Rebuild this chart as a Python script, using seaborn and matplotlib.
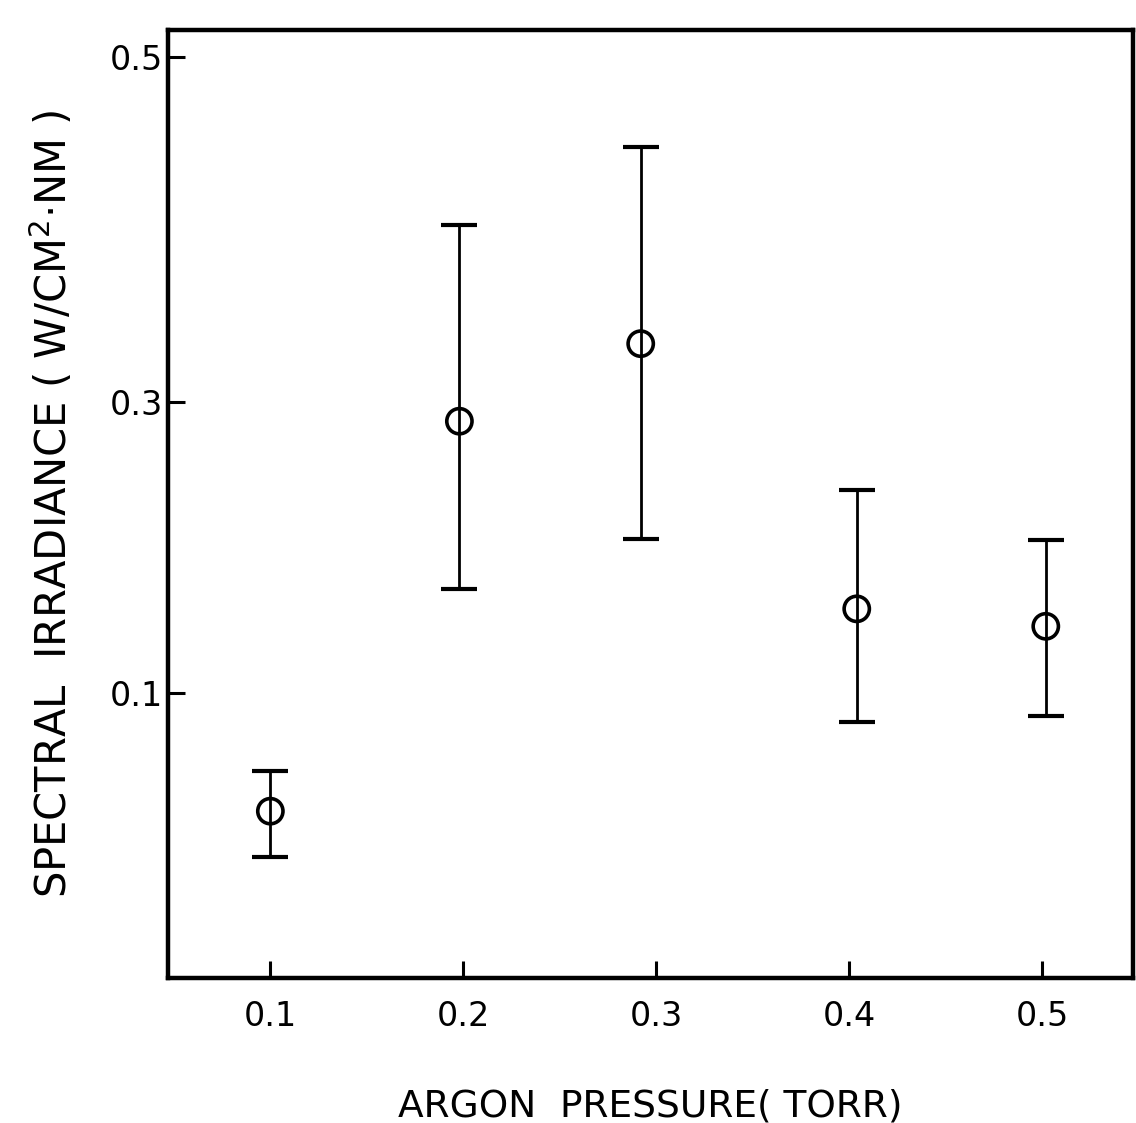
import numpy as np
import seaborn as sns
import matplotlib.pyplot as plt

# Argon pressure (torr) as drawn, and spectral irradiance
pressure = [0.100, 0.198, 0.292, 0.404, 0.502]
irradiance = [0.0586, 0.287, 0.334, 0.158, 0.146]
err_low = [0.0425, 0.1715, 0.206, 0.090, 0.092]
err_high = [0.0726, 0.403, 0.448, 0.240, 0.205]

x_ticks = [0.1, 0.2, 0.3, 0.4, 0.5]
x_tick_labels = ["0.1", "0.2", "0.3", "0.4", "0.5"]
y_ticks = [0.1, 0.3, 0.5]
y_tick_labels = ["0.1", "0.3", "0.5"]

# the hand-drawn y axis is not evenly spaced: piecewise linear scale
y_knots = np.array([-1.0, 0.0, 0.1, 0.3, 0.5, 2.0])
y_pix = np.array([978 + 2850, 978, 693, 402, 57, 57 - 1725 * 1.5])


def fwd(v):
    return -np.interp(v, y_knots, y_pix)


def inv(t):
    return np.interp(t, -y_pix, y_knots)


sns.set_theme(style="ticks")
plt.rcParams["font.family"] = ["DejaVu Sans"]
plt.rcParams["text.color"] = "black"
plt.rcParams["axes.labelcolor"] = "black"
plt.rcParams["xtick.labelcolor"] = "black"
plt.rcParams["ytick.labelcolor"] = "black"

fig = plt.figure(figsize=(11.36, 11.23), dpi=100)
ax = fig.add_axes([0.148, 0.129, 0.849, 0.844])
ax.set_yscale("function", functions=(fwd, inv))

yerr = [np.array(irradiance) - np.array(err_low),
        np.array(err_high) - np.array(irradiance)]
ax.errorbar(pressure, irradiance, yerr=yerr, fmt="none", ecolor="black",
            elinewidth=2.0, capsize=13, capthick=3.0)
sns.scatterplot(x=pressure, y=irradiance, ax=ax, marker="o", s=330,
                facecolor="none", edgecolor="black", linewidth=2.6, zorder=3)

ax.set_xlim(0.047, 0.547)
ax.set_ylim(0.0, 0.5157)
ax.set_xticks(x_ticks)
ax.set_xticklabels(x_tick_labels, fontsize=24)
ax.set_yticks(y_ticks)
ax.set_yticklabels(y_tick_labels, fontsize=24)
ax.minorticks_off()
ax.tick_params(axis="both", direction="in", length=12, width=2.2,
               color="black", labelcolor="black")
ax.tick_params(axis="x", pad=16)
ax.tick_params(axis="y", pad=4)

for side in ["left", "bottom", "top", "right"]:
    ax.spines[side].set_linewidth(3.2)
    ax.spines[side].set_color("black")

ax.set_xlabel("ARGON  PRESSURE( TORR)", fontsize=27, labelpad=40,
              color="black")
ax.set_ylabel("SPECTRAL  IRRADIANCE ( W/CM$^2$·NM )", fontsize=30,
              labelpad=24, color="black")

fig.savefig("out.png", dpi=100, facecolor="white")
